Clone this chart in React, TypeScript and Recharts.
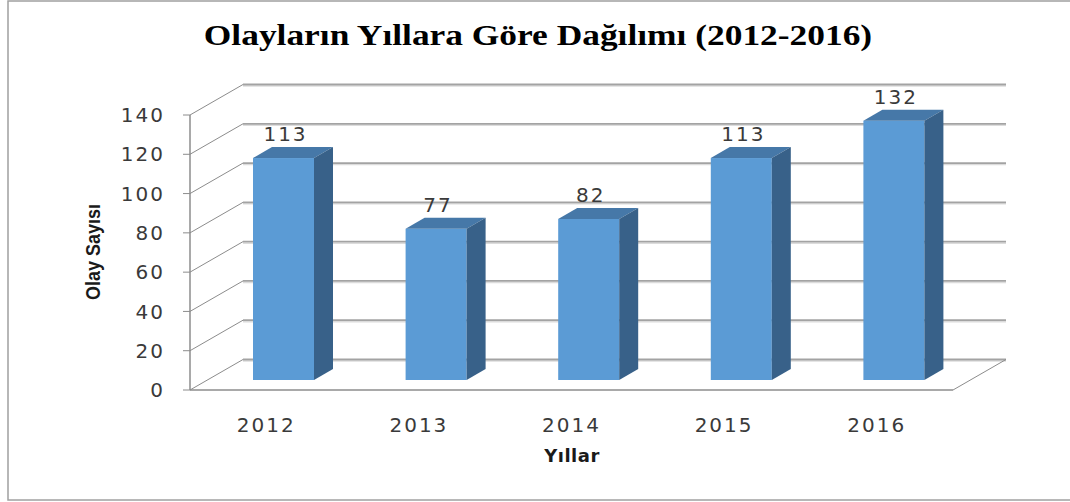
import { BarChart, Bar, XAxis, YAxis, CartesianGrid, LabelList, Customized } from "recharts";

const years = ["2012", "2013", "2014", "2015", "2016"];
const counts = [113, 77, 82, 113, 132];
const yTicks = [0, 20, 40, 60, 80, 100, 120, 140];

const data = years.map((year, i) => ({ year, count: counts[i] }));

// depth of the 3D box (back wall offset) and of the bars inside it
const WALL_DX = 53;
const WALL_DY = -30.5;
const BAR_OX = 17;
const BAR_OY = -10;
const BAR_DX = 19;
const BAR_DY = -11;

const W = 1070;
const H = 502;
const PLOT_RIGHT = 953;
const X_AXIS_H = 112;

const tickFont = {
  fontFamily: "'DejaVu Sans', sans-serif",
  fontSize: 20,
  fill: "#3a3a3a",
  letterSpacing: 2,
};

function Bar3D(props: any) {
  const { x, y, width, height } = props;
  if (height == null || height <= 0) return null;
  const fx = x + BAR_OX;
  const fy = y + BAR_OY;
  const fb = y + height + BAR_OY;
  const rx = fx + width;
  return (
    <g>
      <rect x={fx} y={fy} width={width} height={height} fill="#5b9bd5" />
      <polygon
        points={`${fx},${fy} ${fx + BAR_DX},${fy + BAR_DY} ${rx + BAR_DX},${fy + BAR_DY} ${rx},${fy}`}
        fill="#4678a8"
      />
      <polygon
        points={`${rx},${fy} ${rx + BAR_DX},${fy + BAR_DY} ${rx + BAR_DX},${fb + BAR_DY} ${rx},${fb}`}
        fill="#386189"
      />
    </g>
  );
}

function BarValue(props: any) {
  const { x, y, width, value } = props;
  return (
    <text
      x={x + width / 2 + BAR_OX + 2}
      y={y + BAR_OY + BAR_DY - 6}
      textAnchor="middle"
      {...tickFont}
    >
      {value}
    </text>
  );
}

function GridLine(props: any) {
  const { x1, y1, x2, index } = props;
  const bx = x1 + WALL_DX;
  const by = y1 + WALL_DY;
  const isFloor = Math.abs(y1 - (H - X_AXIS_H)) < 1;
  return (
    <g key={`grid-${index}`}>
      <line x1={x1} y1={y1} x2={bx} y2={by} stroke="#8c8c8c" strokeWidth={1} />
      <line x1={bx} y1={by + 1.5} x2={x2 + WALL_DX} y2={by + 1.5} stroke="#dcdcdc" strokeWidth={1.5} />
      <line x1={bx} y1={by} x2={x2 + WALL_DX} y2={by} stroke="#a3a3a3" strokeWidth={1.8} />
      {isFloor && (
        <line x1={x2} y1={y1} x2={x2 + WALL_DX} y2={by} stroke="#8c8c8c" strokeWidth={1} />
      )}
    </g>
  );
}

function Decorations() {
  return (
    <g>
      <rect x={8} y={1} width={W + 10} height={499} fill="none" stroke="#a0a0a0" strokeWidth={1.5} />
      <text
        transform="translate(538,45) scale(1.18,1)"
        textAnchor="middle"
        fontFamily="'Liberation Serif', 'Times New Roman', serif"
        fontWeight="bold"
        fontSize={30}
        fill="#000"
      >
        Olayların Yıllara Göre Dağılımı (2012-2016)
      </text>
      <text
        x={572}
        y={462}
        textAnchor="middle"
        fontFamily="'DejaVu Sans', sans-serif"
        fontWeight="bold"
        fontSize={18}
        letterSpacing={0.5}
        fill="#1a1a1a"
      >
        Yıllar
      </text>
      <text
        transform="translate(100,252) rotate(-90) scale(0.9,1)"
        textAnchor="middle"
        fontFamily="'Liberation Sans', Arial, sans-serif"
        fontWeight="bold"
        fontSize={20}
        fill="#1a1a1a"
      >
        Olay Sayısı
      </text>
    </g>
  );
}

export default function App() {
  return (
    <div style={{ width: W, height: H, background: "#fff" }}>
      <style>{`body{margin:0;}`}</style>
      <BarChart
        width={W}
        height={H}
        data={data}
        margin={{ top: 115, right: W - PLOT_RIGHT, bottom: 0, left: 0 }}
        barCategoryGap={0}
      >
        <Customized component={Decorations} />
        <CartesianGrid vertical={false} horizontal={GridLine as any} />
        <XAxis
          dataKey="year"
          tickLine={false}
          axisLine={{ stroke: "#8c8c8c", strokeWidth: 1.5 }}
          tick={tickFont}
          tickMargin={22}
          height={X_AXIS_H}
        />
        <YAxis
          domain={[0, 140]}
          ticks={yTicks}
          interval={0}
          width={190}
          tickSize={7}
          tickMargin={18}
          tickLine={{ stroke: "#8c8c8c" }}
          axisLine={{ stroke: "#8c8c8c", strokeWidth: 1.5 }}
          tick={tickFont}
        />
        <Bar dataKey="count" barSize={61} shape={Bar3D} isAnimationActive={false}>
          <LabelList dataKey="count" content={BarValue} />
        </Bar>
      </BarChart>
    </div>
  );
}
